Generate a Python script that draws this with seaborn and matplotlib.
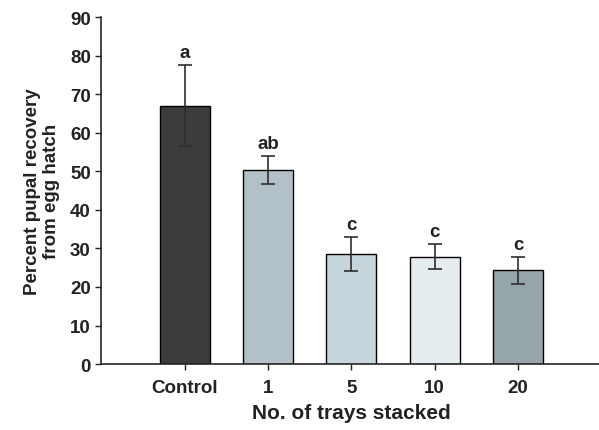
import pandas as pd
import numpy as np
import matplotlib
matplotlib.use("Agg")
import matplotlib.pyplot as plt
import seaborn as sns

## Data
groups = ["Control", "1", "5", "10", "20"]
recovery = [67.0, 50.3, 28.5, 27.9, 24.3]
sem = [10.5, 3.6, 4.4, 3.3, 3.6]
letters = ["a", "ab", "c", "c", "c"]
colors = ["#3c3c3c", "#aec2ca", "#c3d6df", "#e4eef3", "#93a6ad"]

data = pd.DataFrame({"group": groups, "recovery": recovery, "sem": sem})

sns.set_theme(style="ticks")
plt.rcParams["font.family"] = ["Liberation Sans", "DejaVu Sans"]
plt.rcParams["font.weight"] = "bold"

fig = plt.figure(figsize=(5.99, 4.31), dpi=100)
ax = fig.add_axes([0.169, 0.153, 0.835, 0.805])

sns.barplot(data=data, x="group", y="recovery", hue="group", palette=colors,
            legend=False, width=0.6, edgecolor="black", linewidth=1.0,
            errorbar=None, ax=ax)

# error bars (mean +/- SE)
ax.errorbar(np.arange(len(groups)), data["recovery"], yerr=data["sem"],
            fmt="none", ecolor="#2e2e2e", elinewidth=1.2, capsize=5, capthick=1.2)

# significance letters
for i, (v, e, lab) in enumerate(zip(recovery, sem, letters)):
    ax.text(i, v + e + 1.0, lab, ha="center", va="bottom",
            fontsize=13.5, fontweight="bold", color="#222222")

ax.set_xlim(-1.0, 5.0)
ax.set_ylim(0, 90)
ax.set_yticks(range(0, 91, 10))
ax.tick_params(axis="both", labelsize=13.5, length=4, width=1, color="#222222",
               labelcolor="#222222")
ax.tick_params(axis="x", pad=7)
for lab in ax.get_xticklabels() + ax.get_yticklabels():
    lab.set_fontweight("bold")

ax.set_xlabel("No. of trays stacked", fontsize=15, fontweight="bold",
              color="#222222", labelpad=5)
ax.set_ylabel("Percent pupal recovery\nfrom egg hatch", fontsize=13.5,
              fontweight="bold", color="#222222", labelpad=7)

sns.despine(ax=ax)
ax.spines["left"].set_linewidth(1.2)
ax.spines["bottom"].set_linewidth(1.2)
ax.spines["bottom"].set_bounds(-1.0, 5.0)

fig.savefig("out.png", dpi=100)
